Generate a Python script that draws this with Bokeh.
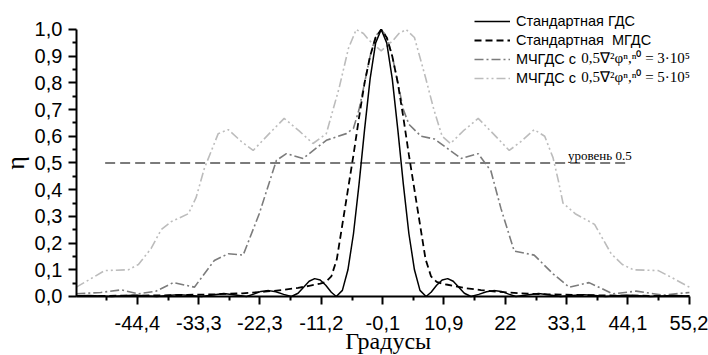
import math
from bokeh.plotting import figure
from bokeh.models import FixedTicker, Label, Legend, LegendItem, Range1d
from bokeh.embed import file_html
from bokeh.resources import INLINE

# ---------------- data ----------------
X_TICKS = [-44.4, -33.3, -22.3, -11.2, -0.1, 10.9, 22.0, 33.1, 44.1, 55.2]
X_TICK_LABELS = ["-44,4", "-33,3", "-22,3", "-11,2", "-0,1", "10,9", "22", "33,1", "44,1", "55,2"]
Y_TICKS = [0.0, 0.1, 0.2, 0.3, 0.4, 0.5, 0.6, 0.7, 0.8, 0.9, 1.0]
Y_TICK_LABELS = ["0,0", "0,1", "0,2", "0,3", "0,4", "0,5", "0,6", "0,7", "0,8", "0,9", "1,0"]
X_AXIS_BOUNDS = (-55.4, 55.2)
Y_AXIS_BOUNDS = (0.0, 1.0)

# Standard GDS (solid)
gds_x = [-55.4, -53.1, -51.0, -49.0, -47.0, -45.0, -42.9, -40.9, -38.9, -36.9, -34.8, -32.8,
         -30.8, -28.8, -26.7, -24.7, -23.4, -22.1, -20.7, -19.4, -18.0, -16.6, -15.4, -14.4,
         -13.4, -12.4, -11.4, -10.4, -9.4, -8.5, -7.4, -6.4, -5.4, -4.4, -3.4, -2.4, -1.4, -0.4,
         0.6, 1.6, 2.6, 3.6, 4.6, 5.6, 6.6, 7.7, 8.6, 9.6, 10.6, 11.6, 12.6, 13.6, 14.6, 15.8,
         17.2, 18.6, 19.9, 21.3, 22.6, 23.9, 25.9, 28.0, 30.0, 32.0, 34.0, 36.1, 38.1, 40.1,
         42.1, 44.2, 46.2, 48.2, 50.2, 52.3, 55.2]
gds_y = [0.002, 0.004, 0.002, 0.0, 0.003, 0.005, 0.003, 0.0, 0.004, 0.007, 0.004, 0.0,
         0.006, 0.011, 0.006, 0.0, 0.009, 0.019, 0.022, 0.018, 0.008, 0.0, 0.012, 0.035,
         0.057, 0.067, 0.062, 0.042, 0.016, 0.0, 0.023, 0.10, 0.235, 0.42, 0.625, 0.815, 0.95, 1.0,
         0.95, 0.815, 0.625, 0.42, 0.235, 0.10, 0.023, 0.0, 0.016, 0.042, 0.062, 0.067, 0.057, 0.035, 0.012, 0.0,
         0.008, 0.018, 0.022, 0.019, 0.009, 0.0, 0.006, 0.011, 0.006, 0.0, 0.004, 0.007, 0.004, 0.0,
         0.003, 0.005, 0.003, 0.0, 0.002, 0.004, 0.002]

# Standard MGDS (dashed)
mgds_x = [-55.4, -45.4, -40.4, -35.4, -30.4, -25.4, -21.4, -18.4, -15.4, -13.4, -12.4, -11.4,
          -10.4, -9.4, -8.4, -7.4, -6.4, -5.4, -4.4, -3.4, -2.4, -1.4, -0.4,
          0.6, 1.6, 2.6, 3.6, 4.6, 5.6, 6.6, 7.6, 8.6, 9.6, 10.6, 11.6, 12.6, 14.6, 17.6,
          20.6, 24.6, 29.6, 34.6, 39.6, 44.6, 55.2]
mgds_y = [0.002, 0.003, 0.004, 0.006, 0.008, 0.012, 0.018, 0.024, 0.032, 0.040, 0.044, 0.048,
          0.055, 0.075, 0.14, 0.27, 0.40, 0.53, 0.67, 0.80, 0.90, 0.97, 1.0,
          0.97, 0.90, 0.80, 0.67, 0.53, 0.40, 0.27, 0.14, 0.075, 0.055, 0.048, 0.044, 0.040, 0.032, 0.024,
          0.018, 0.012, 0.008, 0.006, 0.004, 0.003, 0.002]

# MChGDS, 0.5∇²φ = 3·10^5 (dash-dot)
m3_x = [-55.4, -51.0, -47.3, -44.2, -41.0, -37.9, -34.1, -30.5, -28.0, -25.3, -22.4, -19.3,
        -17.5, -14.5, -10.3, -6.7, -5.4, -4.4, -3.4, -2.4, -1.4, -0.4, 0.6, 1.6, 2.6, 3.6,
        4.6, 6.8, 9.2, 14.0, 17.1, 19.4, 21.2, 23.6, 27.2, 30.6, 33.5, 37.1, 41.4, 45.6,
        50.4, 55.2]
m3_y = [0.010, 0.015, 0.025, 0.010, 0.020, 0.052, 0.035, 0.135, 0.160, 0.155, 0.31, 0.51,
        0.535, 0.517, 0.585, 0.61, 0.63, 0.70, 0.80, 0.90, 0.975, 1.0, 0.975, 0.90, 0.80, 0.70,
        0.645, 0.60, 0.59, 0.517, 0.535, 0.47, 0.33, 0.17, 0.155, 0.085, 0.035, 0.052, 0.010, 0.020,
        0.005, 0.015]

# MChGDS, 0.5∇²φ = 5·10^5 (dash-dot-dot)
m5_x = [-55.4, -52.5, -50.3, -46.0, -44.2, -41.9, -40.1, -38.3, -35.2, -33.8, -32.3, -29.8,
        -28.0, -25.6, -23.5, -20.6, -17.9, -15.2, -12.7, -10.3, -8.0, -6.3, -4.9, -3.6, -2.6,
        -0.4, 1.8, 2.8, 4.1, 5.6, 7.6, 9.1, 10.6, 12.1, 14.4, 17.1, 19.8, 22.7, 24.8, 27.2,
        29.1, 30.6, 31.6, 32.4, 34.6, 38.1, 41.1, 43.1, 45.1, 49.6, 52.1, 55.2]
m5_y = [0.035, 0.070, 0.097, 0.100, 0.120, 0.180, 0.25, 0.28, 0.31, 0.37, 0.48, 0.61,
        0.625, 0.58, 0.547, 0.61, 0.667, 0.62, 0.573, 0.61, 0.78, 0.93, 1.0, 0.985, 0.96,
        0.92, 0.96, 0.985, 1.0, 0.97, 0.82, 0.70, 0.60, 0.573, 0.62, 0.667, 0.61, 0.547, 0.58, 0.625,
        0.60, 0.52, 0.43, 0.35, 0.31, 0.27, 0.16, 0.12, 0.10, 0.097, 0.070, 0.035]

LEVEL_X = [-50.2, 44.1]
LEVEL_Y = [0.5, 0.5]

LEGEND_LABELS = ["Стандартная ГДС", "Стандартная  МГДС", "МЧГДС с", "МЧГДС с"]
FORMULA_3 = "0,5∇²φⁿ,ⁿ⁰ = 3·10⁵"
FORMULA_5 = "0,5∇²φⁿ,ⁿ⁰ = 5·10⁵"

# ---------------- figure ----------------
# the frame covers the whole canvas; axes are pinned at fixed locations
p = figure(width=708, height=355, output_backend="svg", toolbar_location=None,
           x_range=Range1d(-69.08, 58.65), y_range=Range1d(-0.221, 1.1086),
           min_border_left=0, min_border_right=0, min_border_top=0, min_border_bottom=0)
p.title.visible = False
p.outline_line_color = None
p.xgrid.visible = False
p.ygrid.visible = False
p.background_fill_color = "white"
p.border_fill_color = "white"

x_minor = [X_TICKS[0] - (X_TICKS[1] - X_TICKS[0]) / 2] + [
    (a + b) / 2 for a, b in zip(X_TICKS[:-1], X_TICKS[1:])]
y_minor = [(a + b) / 2 for a, b in zip(Y_TICKS[:-1], Y_TICKS[1:])]

p.xaxis.ticker = FixedTicker(ticks=X_TICKS, minor_ticks=x_minor)
p.xaxis.major_label_overrides = {t: l for t, l in zip(X_TICKS, X_TICK_LABELS)}
p.yaxis.ticker = FixedTicker(ticks=Y_TICKS, minor_ticks=y_minor)
p.yaxis.major_label_overrides = {t: l for t, l in zip(Y_TICKS, Y_TICK_LABELS)}
p.xaxis.fixed_location = Y_AXIS_BOUNDS[0]
p.yaxis.fixed_location = X_AXIS_BOUNDS[0]
p.xaxis.bounds = X_AXIS_BOUNDS
p.yaxis.bounds = Y_AXIS_BOUNDS

for ax in (p.xaxis[0], p.yaxis[0]):
    ax.axis_line_color = "black"
    ax.axis_line_width = 2
    ax.major_tick_line_color = "black"
    ax.major_tick_line_width = 2
    ax.minor_tick_line_color = "black"
    ax.minor_tick_line_width = 2
    ax.major_tick_in = 0
    ax.major_tick_out = 8
    ax.minor_tick_in = 0
    ax.minor_tick_out = 4
    ax.major_label_text_font = "Liberation Sans"
    ax.major_label_text_font_size = "20px"
    ax.major_label_text_color = "black"
p.yaxis.major_label_standoff = 6
p.xaxis.major_label_standoff = 12

# level line
p.line(LEVEL_X, LEVEL_Y, line_color="#505050", line_width=1.6, line_dash="10 5")

r5 = p.line(m5_x, m5_y, line_color="#bcbcbc", line_width=1.6, line_dash="9 3 2 3 2 3")
r3 = p.line(m3_x, m3_y, line_color="#7c7c7c", line_width=1.6, line_dash="9 3 2 3")
rm = p.line(mgds_x, mgds_y, line_color="black", line_width=1.8, line_dash="7 4")
rg = p.line(gds_x, gds_y, line_color="black", line_width=1.5)

legend = Legend(items=[LegendItem(label=LEGEND_LABELS[0], renderers=[rg]),
                       LegendItem(label=LEGEND_LABELS[1], renderers=[rm]),
                       LegendItem(label=LEGEND_LABELS[2], renderers=[r3]),
                       LegendItem(label=LEGEND_LABELS[3], renderers=[r5])],
                location=(474, 269))
legend.label_text_font = "Liberation Sans"
legend.label_text_font_size = "14.5px"
legend.label_text_color = "black"
legend.glyph_width = 36
legend.glyph_height = 12
legend.label_height = 17
legend.label_standoff = 6
legend.spacing = 2
legend.padding = 0
legend.margin = 0
legend.border_line_alpha = 0
legend.background_fill_alpha = 0
p.add_layout(legend)

p.add_layout(Label(x=35.7, y=0.895, text=FORMULA_3, text_font="Liberation Serif",
                   text_font_size="15px", text_baseline="middle", text_color="black"))
p.add_layout(Label(x=35.7, y=0.822, text=FORMULA_5, text_font="Liberation Serif",
                   text_font_size="15px", text_baseline="middle", text_color="black"))

p.add_layout(Label(x=33.3, y=0.528, text="уровень 0.5", text_font="Liberation Serif",
                   text_font_size="13px", text_baseline="middle", text_color="black"))

p.add_layout(Label(x=-66.4, y=0.5, text="η", angle=math.pi / 2, text_font="Liberation Serif",
                   text_font_size="26px", text_align="center", text_baseline="middle",
                   text_color="black"))
p.add_layout(Label(x=0.87, y=-0.1685, text="Градусы", text_font="Liberation Serif",
                   text_font_size="24px", text_align="center", text_baseline="middle",
                   text_color="black"))

open("out.html", "w").write(file_html(p, INLINE))
